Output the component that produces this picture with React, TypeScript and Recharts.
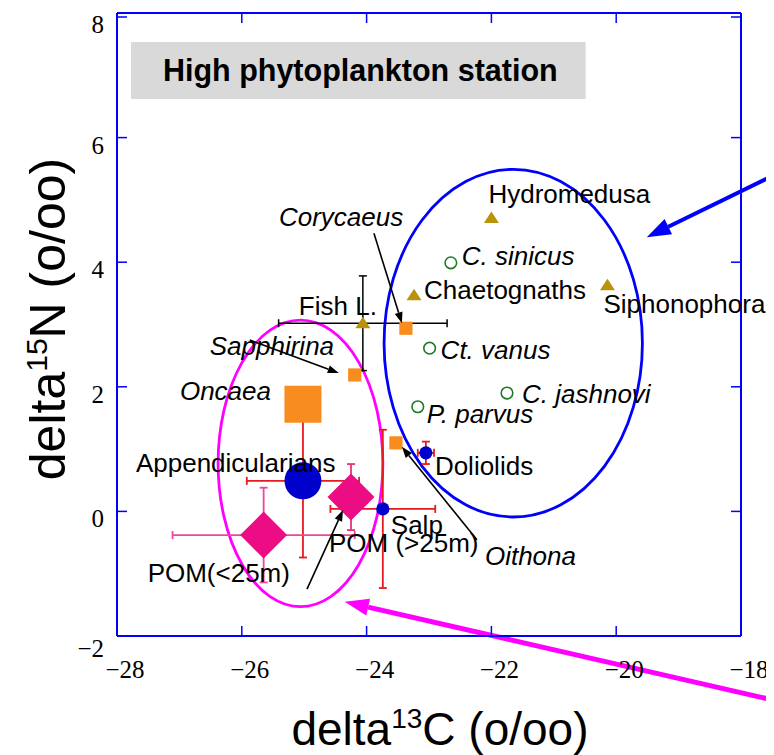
import React from 'react';
import {
  ScatterChart,
  Scatter,
  XAxis,
  YAxis,
  ErrorBar,
  ReferenceArea,
  ReferenceLine,
} from 'recharts';

// ---------------- data ----------------
const xTicks = [-28, -26, -24, -22, -20, -18];
const yTicks = [-2, 0, 2, 4, 6, 8];

const gelatinousNames = ['Hydromedusa', 'Chaetognaths', 'Siphonophora'];
const gelatinousC = [-22.0, -23.24, -20.14];
const gelatinousN = [4.71, 3.47, 3.63];

const fishNames = ['Fish L.'];
const fishC = [-24.06];
const fishN = [3.02];
const fishErrC = [1.35];
const fishErrN = [0.76];

const calanoidNames = ['C. sinicus', 'Ct. vanus', 'C. jashnovi', 'P. parvus'];
const calanoidC = [-22.65, -22.99, -21.75, -23.18];
const calanoidN = [3.99, 2.62, 1.9, 1.68];

const cyclopoidNames = ['Corycaeus', 'Sapphirina', 'Oithona'];
const cyclopoidC = [-23.37, -24.19, -23.53];
const cyclopoidN = [2.94, 2.19, 1.1];

const oncaeaNames = ['Oncaea'];
const oncaeaC = [-25.02];
const oncaeaN = [1.72];

const appendNames = ['Appendicularians'];
const appendC = [-25.02];
const appendN = [0.49];
const appendErrC = [0.9];
const appendErrN = [1.23];

const salpNames = ['Salp'];
const salpC = [-23.74];
const salpN = [0.04];
const salpErrC = [0.84];
const salpErrN = [1.27];

const dolioNames = ['Doliolids'];
const dolioC = [-23.05];
const dolioN = [0.94];
const dolioErrC = [0.13];
const dolioErrN = [0.18];

const pomDeepNames = ['POM (>25m)'];
const pomDeepC = [-24.25];
const pomDeepN = [0.23];
const pomDeepErrN = [0.53];

const pomShallowNames = ['POM(<25m)'];
const pomShallowC = [-25.65];
const pomShallowN = [-0.38];
const pomShallowErrC = [1.46];
const pomShallowErrN = [0.76];

// grouping ellipses (center C, center N, radius C, radius N)
const ellipseCenterC = [-21.65, -25.06];
const ellipseCenterN = [2.7, 0.77];
const ellipseRadiusC = [2.07, 1.32];
const ellipseRadiusN = [2.79, 2.3];

// pointer arrows coming from the neighbouring panels (start, tip)
const bigArrowStartC = [-17.0, -17.0];
const bigArrowStartN = [5.63, -3.14];
const bigArrowTipC = [-19.51, -24.35];
const bigArrowTipN = [4.4, -1.45];

const titleText = 'High phytoplankton station';
const titleBoxC = [-27.776, -20.49];
const titleBoxN = [6.62, 7.535];

// ---------------- styles ----------------
const SANS = '"Liberation Sans", Arial, Helvetica, sans-serif';
const SERIF = '"Liberation Serif", "Times New Roman", serif';
const BLUE = '#0000ff';
const MAGENTA = '#ff00ff';
const OLIVE = '#b8930a';
const GREEN = '#1f7a28';
const ORANGE = '#f98c1e';
const NAVY = '#0000cc';
const PINK = '#ec0c84';
const RED = '#e8191f';
const PINKBAR = '#ee4796';

type Placement = { dx: number; dy: number; italic?: boolean; arrow?: number[] };
const labelPlacement: Record<string, Placement> = {
  Hydromedusa: { dx: -3, dy: -15 },
  Chaetognaths: { dx: 10, dy: 4 },
  Siphonophora: { dx: -4, dy: 28 },
  'Fish L.': { dx: -64, dy: -8 },
  'C. sinicus': { dx: 11, dy: 2, italic: true },
  'Ct. vanus': { dx: 11, dy: 11, italic: true },
  'C. jashnovi': { dx: 15, dy: 10, italic: true },
  'P. parvus': { dx: 9, dy: 16, italic: true },
  Corycaeus: { dx: -127, dy: -102, italic: true, arrow: [-32, -95, -4, -5] },
  Sapphirina: { dx: -145, dy: -20, italic: true, arrow: [-105, -35, -16, -2] },
  Oithona: { dx: 89, dy: 122, italic: true, arrow: [81, 97, 6, 4] },
  Oncaea: { dx: -123, dy: -4, italic: true },
  Appendicularians: { dx: -167, dy: -9 },
  Salp: { dx: 8, dy: 25 },
  Doliolids: { dx: 9, dy: 22 },
  'POM (>25m)': { dx: -22, dy: 55, arrow: [-44, 92, -8, 13] },
  'POM(<25m)': { dx: -116, dy: 47 },
};

const rows = (names: string[], cs: number[], ns: number[], ec?: number[], en?: number[]) =>
  names.map((name, i) => ({
    name,
    x: cs[i],
    y: ns[i],
    ...(ec ? { ex: ec[i] } : {}),
    ...(en ? { ey: en[i] } : {}),
  }));

const gelatinousData = rows(gelatinousNames, gelatinousC, gelatinousN);
const fishData = rows(fishNames, fishC, fishN, fishErrC, fishErrN);
const calanoidData = rows(calanoidNames, calanoidC, calanoidN);
const cyclopoidData = rows(cyclopoidNames, cyclopoidC, cyclopoidN);
const oncaeaData = rows(oncaeaNames, oncaeaC, oncaeaN);
const appendData = rows(appendNames, appendC, appendN, appendErrC, appendErrN);
const salpData = rows(salpNames, salpC, salpN, salpErrC, salpErrN);
const dolioData = rows(dolioNames, dolioC, dolioN, dolioErrC, dolioErrN);
const pomDeepData = rows(pomDeepNames, pomDeepC, pomDeepN, undefined, pomDeepErrN);
const pomShallowData = rows(pomShallowNames, pomShallowC, pomShallowN, pomShallowErrC, pomShallowErrN);

// ---------------- helpers ----------------
function arrowGeom(x1: number, y1: number, x2: number, y2: number, headLen: number, headW: number) {
  const dx = x2 - x1;
  const dy = y2 - y1;
  const L = Math.hypot(dx, dy) || 1;
  const ux = dx / L;
  const uy = dy / L;
  const bx = x2 - ux * headLen;
  const by = y2 - uy * headLen;
  const px = -uy;
  const py = ux;
  return {
    bx,
    by,
    pts: `${x2},${y2} ${bx + (px * headW) / 2},${by + (py * headW) / 2} ${bx - (px * headW) / 2},${by - (py * headW) / 2}`,
  };
}

const Arrow = ({ x1, y1, x2, y2, color, width, headLen, headW }: any) => {
  const g = arrowGeom(x1, y1, x2, y2, headLen, headW);
  return (
    <g>
      <line x1={x1} y1={y1} x2={g.bx} y2={g.by} stroke={color} strokeWidth={width} />
      <polygon points={g.pts} fill={color} />
    </g>
  );
};

type Kind = 'triangle' | 'openCircle' | 'square' | 'bigSquare' | 'bigCircle' | 'dot' | 'diamond';

const drawMarker = (kind: Kind, cx: number, cy: number) => {
  switch (kind) {
    case 'triangle':
      return <polygon points={`${cx},${cy - 6.5} ${cx - 7.5},${cy + 5} ${cx + 7.5},${cy + 5}`} fill={OLIVE} />;
    case 'openCircle':
      return <circle cx={cx} cy={cy} r={5.8} fill="#fff" stroke={GREEN} strokeWidth={1.6} />;
    case 'square':
      return <rect x={cx - 6.6} y={cy - 6.6} width={13.2} height={13.2} fill={ORANGE} />;
    case 'bigSquare':
      return <rect x={cx - 18.5} y={cy - 18.5} width={37} height={37} fill={ORANGE} />;
    case 'bigCircle':
      return <circle cx={cx} cy={cy} r={18.5} fill={NAVY} />;
    case 'dot':
      return <circle cx={cx} cy={cy} r={6.6} fill={NAVY} />;
    case 'diamond':
      return (
        <polygon
          points={`${cx},${cy - 23.5} ${cx + 23.5},${cy} ${cx},${cy + 23.5} ${cx - 23.5},${cy}`}
          fill={PINK}
        />
      );
    default:
      return null;
  }
};

const pointShape = (kind: Kind) => (props: any) => {
  const { cx, cy, payload } = props;
  if (cx == null || cy == null) return <g />;
  const pl = labelPlacement[payload?.name];
  return (
    <g>
      {drawMarker(kind, cx, cy)}
      {pl && pl.arrow ? (
        <Arrow
          x1={cx + pl.arrow[0]}
          y1={cy + pl.arrow[1]}
          x2={cx + pl.arrow[2]}
          y2={cy + pl.arrow[3]}
          color="#000"
          width={1.6}
          headLen={11}
          headW={8}
        />
      ) : null}
      {pl ? (
        <text
          x={cx + pl.dx}
          y={cy + pl.dy}
          fontFamily={SANS}
          fontSize={26}
          fontStyle={pl.italic ? 'italic' : 'normal'}
          fill="#000"
        >
          {payload.name}
        </text>
      ) : null}
    </g>
  );
};

const emptyShape = () => <g />;

const fmt = (v: number) => (v < 0 ? `\u2212${Math.abs(v)}` : `${v}`);

const BottomTick = (p: any) => (
  <g>
    <line x1={p.x} y1={p.y} x2={p.x} y2={p.y - 10} stroke={BLUE} strokeWidth={1.5} />
    <text x={p.x + 8} y={p.y + 42} textAnchor="middle" fontFamily={SERIF} fontSize={25} fill="#000">
      {fmt(p.payload.value)}
    </text>
  </g>
);
const TopTick = (p: any) => (
  <line x1={p.x} y1={p.y} x2={p.x} y2={p.y + 10} stroke={BLUE} strokeWidth={1.5} />
);
const LeftTick = (p: any) => (
  <g>
    <line x1={p.x} y1={p.y} x2={p.x + 10} y2={p.y} stroke={BLUE} strokeWidth={1.5} />
    <text
      x={p.x - 13}
      y={p.y + (p.payload.value === -2 ? 21 : 16)}
      textAnchor="end"
      fontFamily={SERIF}
      fontSize={25}
      fill="#000"
    >
      {fmt(p.payload.value)}
    </text>
  </g>
);
const RightTick = (p: any) => (
  <line x1={p.x} y1={p.y} x2={p.x - 10} y2={p.y} stroke={BLUE} strokeWidth={1.5} />
);

const ellipseShape = (color: string) => (p: any) => (
  <ellipse
    cx={p.x + p.width / 2}
    cy={p.y + p.height / 2}
    rx={Math.abs(p.width) / 2}
    ry={Math.abs(p.height) / 2}
    fill="none"
    stroke={color}
    strokeWidth={2.8}
  />
);

const bigArrowShape = (color: string, width: number) => (p: any) => (
  <Arrow x1={p.x1} y1={p.y1} x2={p.x2} y2={p.y2} color={color} width={width} headLen={24} headW={17} />
);

const titleShape = (p: any) => (
  <g>
    <rect x={p.x} y={p.y} width={p.width} height={p.height} fill="#d9d9d9" />
    <text
      x={p.x + p.width / 2 + 2}
      y={p.y + p.height / 2 + 11}
      textAnchor="middle"
      fontFamily={SANS}
      fontWeight="bold"
      fontSize={30.5}
      fill="#000"
    >
      {titleText}
    </text>
  </g>
);

const W = 766;
const H = 747;

export default function App() {
  return (
    <div style={{ position: 'relative', width: W, height: H }}>
      <ScatterChart width={W} height={H} margin={{ top: 4, right: 32, bottom: 59, left: 49 }}>
        <XAxis
          type="number"
          dataKey="x"
          domain={[-28, -18]}
          ticks={xTicks}
          height={60}
          tickSize={0}
          tickMargin={0}
          tickLine={false}
          axisLine={{ stroke: BLUE, strokeWidth: 2 }}
          tick={<BottomTick />}
        />
        <XAxis
          xAxisId="top"
          orientation="top"
          type="number"
          dataKey="x"
          domain={[-28, -18]}
          ticks={xTicks}
          height={1}
          tickSize={0}
          tickMargin={0}
          tickLine={false}
          axisLine={{ stroke: BLUE, strokeWidth: 2 }}
          tick={<TopTick />}
        />
        <YAxis
          type="number"
          dataKey="y"
          domain={[-2, 8]}
          ticks={yTicks}
          width={60}
          tickSize={0}
          tickMargin={0}
          tickLine={false}
          axisLine={{ stroke: BLUE, strokeWidth: 2 }}
          tick={<LeftTick />}
        />
        <YAxis
          yAxisId="right"
          orientation="right"
          type="number"
          dataKey="y"
          domain={[-2, 8]}
          ticks={yTicks}
          width={1}
          tickSize={0}
          tickMargin={0}
          tickLine={false}
          axisLine={{ stroke: BLUE, strokeWidth: 2 }}
          tick={<RightTick />}
        />

        <ReferenceArea
          x1={titleBoxC[0]}
          x2={titleBoxC[1]}
          y1={titleBoxN[0]}
          y2={titleBoxN[1]}
          shape={titleShape}
          ifOverflow="visible"
        />

        {ellipseCenterC.map((c, i) => (
          <ReferenceArea
            key={`ell${i}`}
            x1={c - ellipseRadiusC[i]}
            x2={c + ellipseRadiusC[i]}
            y1={ellipseCenterN[i] - ellipseRadiusN[i]}
            y2={ellipseCenterN[i] + ellipseRadiusN[i]}
            shape={ellipseShape(i === 0 ? BLUE : MAGENTA)}
            ifOverflow="visible"
          />
        ))}

        {/* binds the mirrored frame axes (draws nothing) */}
        <Scatter
          data={gelatinousData}
          xAxisId="top"
          yAxisId="right"
          shape={emptyShape}
          isAnimationActive={false}
        />

        <Scatter data={appendData} shape={pointShape('bigCircle')} isAnimationActive={false}>
          <ErrorBar dataKey="ex" direction="x" stroke={RED} strokeWidth={1.8} width={4} />
          <ErrorBar dataKey="ey" direction="y" stroke={RED} strokeWidth={1.8} width={4} />
        </Scatter>
        <Scatter data={oncaeaData} shape={pointShape('bigSquare')} isAnimationActive={false} />
        <Scatter data={pomShallowData} shape={pointShape('diamond')} isAnimationActive={false}>
          <ErrorBar dataKey="ex" direction="x" stroke={PINKBAR} strokeWidth={1.8} width={4} />
          <ErrorBar dataKey="ey" direction="y" stroke={PINKBAR} strokeWidth={1.8} width={4} />
        </Scatter>
        <Scatter data={salpData} shape={pointShape('dot')} isAnimationActive={false}>
          <ErrorBar dataKey="ex" direction="x" stroke={RED} strokeWidth={1.8} width={4} />
          <ErrorBar dataKey="ey" direction="y" stroke={RED} strokeWidth={1.8} width={4} />
        </Scatter>
        <Scatter data={pomDeepData} shape={pointShape('diamond')} isAnimationActive={false}>
          <ErrorBar dataKey="ey" direction="y" stroke="#e5337a" strokeWidth={1.8} width={4} />
        </Scatter>
        <Scatter data={dolioData} shape={pointShape('dot')} isAnimationActive={false}>
          <ErrorBar dataKey="ex" direction="x" stroke={RED} strokeWidth={1.8} width={4} />
          <ErrorBar dataKey="ey" direction="y" stroke={RED} strokeWidth={1.8} width={4} />
        </Scatter>
        <Scatter data={fishData} shape={pointShape('triangle')} isAnimationActive={false}>
          <ErrorBar dataKey="ex" direction="x" stroke="#000" strokeWidth={1.5} width={4} />
          <ErrorBar dataKey="ey" direction="y" stroke="#000" strokeWidth={1.5} width={4} />
        </Scatter>
        <Scatter data={gelatinousData} shape={pointShape('triangle')} isAnimationActive={false} />
        <Scatter data={calanoidData} shape={pointShape('openCircle')} isAnimationActive={false} />
        <Scatter data={cyclopoidData} shape={pointShape('square')} isAnimationActive={false} />

        {bigArrowStartC.map((c, i) => (
          <ReferenceLine
            key={`arr${i}`}
            segment={[
              { x: c, y: bigArrowStartN[i] },
              { x: bigArrowTipC[i], y: bigArrowTipN[i] },
            ]}
            ifOverflow="visible"
            shape={bigArrowShape(i === 0 ? BLUE : MAGENTA, i === 0 ? 4 : 5)}
          />
        ))}
      </ScatterChart>

      <svg
        width={W}
        height={H}
        style={{ position: 'absolute', left: 0, top: 0, pointerEvents: 'none' }}
      >
        <text x={432} y={737} textAnchor="middle" fontFamily={SANS} fontSize={46} fill="#000">
          delta
          <tspan fontSize={28} dy={-17}>
            13
          </tspan>
          <tspan dy={17}>C (o/oo)</tspan>
        </text>
        <text
          transform="translate(57, 311) rotate(-90)"
          x={0}
          y={0}
          textAnchor="middle"
          fontFamily={SANS}
          fontSize={50}
          fill="#000"
        >
          delta
          <tspan fontSize={30} dy={-18}>
            15
          </tspan>
          <tspan dy={18}>N (o/oo)</tspan>
        </text>
      </svg>
    </div>
  );
}
